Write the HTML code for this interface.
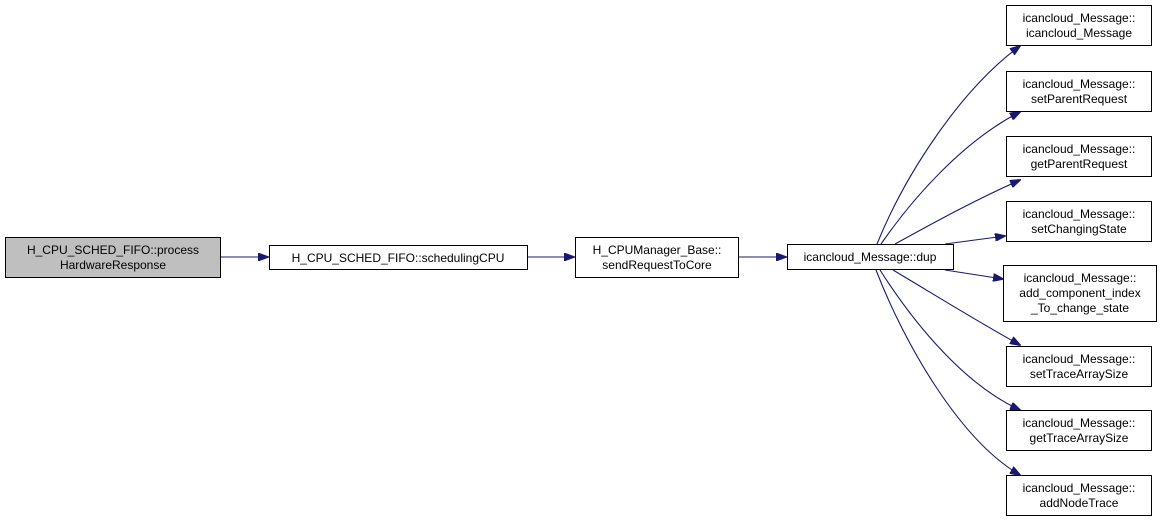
<!DOCTYPE html>
<html><head><meta charset="utf-8"><style>
html,body{margin:0;padding:0;background:#fff;}
svg{display:block;}
text{font-family:"Liberation Sans",Helvetica,Arial,sans-serif;font-size:12px;fill:#000;}
</style></head><body>
<svg width="1160" height="521" viewBox="0 0 1160 521" xmlns="http://www.w3.org/2000/svg">
<defs>
<marker id="a" markerWidth="11" markerHeight="8" refX="10" refY="4" orient="auto" markerUnits="userSpaceOnUse">
<path d="M0,0 L11,4 L0,8 Z" fill="#191970" stroke="#191970"/>
</marker>
</defs>
<g fill="none" stroke="#191970" stroke-width="1.1">
<path d="M220,257 L268,257" marker-end="url(#a)"/>
<path d="M527,257 L574,257" marker-end="url(#a)"/>
<path d="M738,257 L786,257" marker-end="url(#a)"/>
<path d="M877,244 C905,175 960,90 1020,46" marker-end="url(#a)"/>
<path d="M881,244 C915,195 965,140 1020,112" marker-end="url(#a)"/>
<path d="M895,244 C935,222 975,200 1020,180" marker-end="url(#a)"/>
<path d="M945,244 L1005,236" marker-end="url(#a)"/>
<path d="M945,270 L1003,279" marker-end="url(#a)"/>
<path d="M893,270 C935,295 975,320 1020,345" marker-end="url(#a)"/>
<path d="M880,270 C915,325 965,385 1020,410" marker-end="url(#a)"/>
<path d="M876,270 C905,345 960,440 1020,475" marker-end="url(#a)"/>
</g>
<g stroke="#000" stroke-width="1">
<rect x="5.5" y="237.5" width="215" height="40" fill="#bfbfbf"/>
<rect x="269.5" y="245.5" width="258" height="24" fill="#fff"/>
<rect x="575.5" y="237.5" width="163" height="40" fill="#fff"/>
<rect x="787.5" y="244.5" width="166" height="25" fill="#fff"/>
<rect x="1006.5" y="5.5" width="145" height="40" fill="#fff"/>
<rect x="1006.5" y="71.5" width="145" height="40" fill="#fff"/>
<rect x="1006.5" y="136.5" width="145" height="40" fill="#fff"/>
<rect x="1006.5" y="201.5" width="145" height="40" fill="#fff"/>
<rect x="1003.5" y="265.5" width="153" height="56" fill="#fff"/>
<rect x="1006.5" y="346.5" width="145" height="40" fill="#fff"/>
<rect x="1006.5" y="410.5" width="145" height="40" fill="#fff"/>
<rect x="1006.5" y="475.5" width="145" height="40" fill="#fff"/>
</g>
<g text-anchor="middle">
<text x="113" y="254">H_CPU_SCHED_FIFO::process</text>
<text x="113" y="269">HardwareResponse</text>
<text x="398" y="262">H_CPU_SCHED_FIFO::schedulingCPU</text>
<text x="657" y="254">H_CPUManager_Base::</text>
<text x="657" y="269">sendRequestToCore</text>
<text x="870" y="261">icancloud_Message::dup</text>
<text x="1079" y="22">icancloud_Message::</text>
<text x="1079" y="37">icancloud_Message</text>
<text x="1079" y="88">icancloud_Message::</text>
<text x="1079" y="103">setParentRequest</text>
<text x="1079" y="153">icancloud_Message::</text>
<text x="1079" y="168">getParentRequest</text>
<text x="1079" y="218">icancloud_Message::</text>
<text x="1079" y="233">setChangingState</text>
<text x="1080" y="282">icancloud_Message::</text>
<text x="1080" y="297">add_component_index</text>
<text x="1080" y="312">_To_change_state</text>
<text x="1079" y="363">icancloud_Message::</text>
<text x="1079" y="378">setTraceArraySize</text>
<text x="1079" y="427">icancloud_Message::</text>
<text x="1079" y="442">getTraceArraySize</text>
<text x="1079" y="492">icancloud_Message::</text>
<text x="1079" y="507">addNodeTrace</text>
</g>
</svg>
</body></html>
